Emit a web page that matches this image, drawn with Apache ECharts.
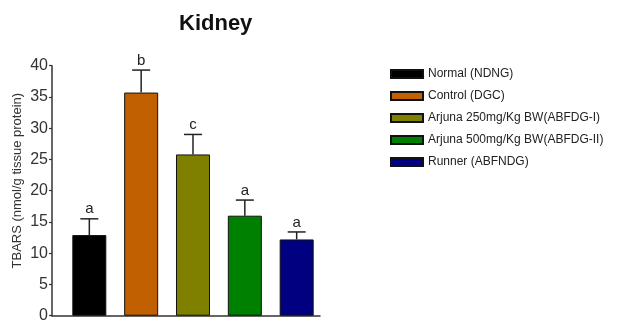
<!DOCTYPE html>
<html>
<head>
<meta charset="utf-8">
<script src="https://cdn.jsdelivr.net/npm/echarts@6/dist/echarts.min.js"></script>
<style>
  html, body { margin: 0; padding: 0; background: #fff; }
  #chart { width: 630px; height: 327px; }
</style>
</head>
<body>
<div id="chart"></div>
<script>
// Kidney TBARS by treatment group (mean, SEM, significance letter)
const groups = ['Normal (NDNG)', 'Control (DGC)', 'Arjuna 250mg/Kg BW(ABFDG-I)', 'Arjuna 500mg/Kg BW(ABFDG-II)', 'Runner (ABFNDG)'];
const means = [12.9, 35.7, 25.8, 16.0, 12.2];
const errors = [2.6, 3.6, 3.2, 2.5, 1.2];
const letters = ['a', 'b', 'c', 'a', 'a'];
const colors = ['#000000', '#c06000', '#808000', '#008000', '#000080'];
const yTicks = [0, 5, 10, 15, 20, 25, 30, 35, 40];

const FONT = 'Liberation Sans, Arial, sans-serif';
const chart = echarts.init(document.getElementById('chart'), null, { renderer: 'canvas' });

const barSeries = groups.map((g, i) => ({
  name: g,
  type: 'bar',
  stack: 'groups',
  barWidth: 34,
  data: [[i, means[i]]],
  itemStyle: { color: colors[i], borderColor: '#111', borderWidth: 1 },
  z: 2
}));

const errorSeries = {
  type: 'custom',
  name: 'sem',
  data: means.map((m, i) => [i, m, m + errors[i], letters[i]]),
  renderItem: function (params, api) {
    const x = api.value(0);
    const base = api.coord([x, api.value(1)]);
    const top = api.coord([x, api.value(2)]);
    const half = 9;
    return {
      type: 'group',
      children: [
        { type: 'line', shape: { x1: base[0], y1: base[1], x2: top[0], y2: top[1] },
          style: { stroke: '#222', lineWidth: 1.5 } },
        { type: 'line', shape: { x1: top[0] - half, y1: top[1], x2: top[0] + half, y2: top[1] },
          style: { stroke: '#222', lineWidth: 1.5 } },
        { type: 'text', x: top[0], y: top[1] - 2,
          style: { text: letters[params.dataIndex], fill: '#222', font: '15px ' + FONT,
                   align: 'center', verticalAlign: 'bottom' } }
      ]
    };
  },
  z: 3
};

chart.setOption({
  animation: false,
  backgroundColor: '#ffffff',
  title: {
    text: 'Kidney',
    left: 174,
    top: 8,
    textStyle: { fontFamily: FONT, fontSize: 22, fontWeight: 'bold', color: '#111' }
  },
  legend: {
    orient: 'vertical',
    left: 390,
    top: 67,
    padding: 0,
    itemWidth: 32,
    itemHeight: 8,
    itemGap: 8,
    icon: 'rect',
    data: groups,
    textStyle: { fontFamily: FONT, fontSize: 12, color: '#222', lineHeight: 14 },
    selectedMode: false
  },
  grid: { left: 52, top: 65.7, right: 310, bottom: 11.3 },
  xAxis: {
    type: 'value',
    min: -0.72,
    max: 4.45,
    axisLine: { show: true, onZero: false, lineStyle: { color: '#333', width: 1.5 } },
    axisTick: { show: false },
    axisLabel: { show: false },
    splitLine: { show: false }
  },
  yAxis: {
    type: 'value',
    min: yTicks[0],
    max: yTicks[yTicks.length - 1],
    interval: 5,
    name: 'TBARS (nmol/g tissue protein)',
    nameLocation: 'middle',
    nameGap: 28,
    nameTextStyle: { fontFamily: FONT, fontSize: 13, color: '#333', padding: [0, 0, 0, 20] },
    axisLine: { show: true, onZero: false, lineStyle: { color: '#333', width: 1.5 } },
    axisTick: { show: true, length: 3, lineStyle: { color: '#333', width: 1.2 } },
    axisLabel: { fontFamily: FONT, fontSize: 16, color: '#333', margin: 4 },
    splitLine: { show: false }
  },
  series: barSeries.concat([errorSeries])
});
</script>
</body>
</html>
